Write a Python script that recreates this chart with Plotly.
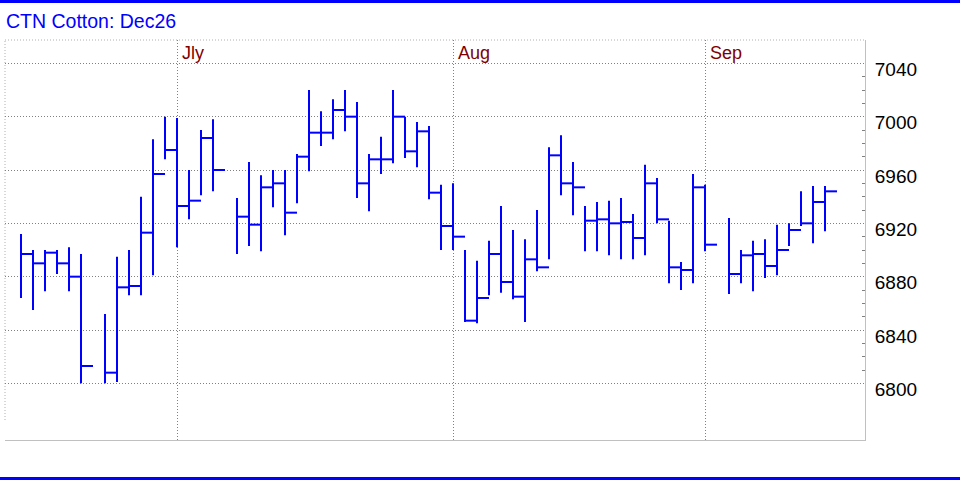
import plotly.graph_objects as go

# ---- data ----
slot = [0, 1, 2, 3, 4, 5,
        7, 8, 9, 10, 11, 12, 13, 14, 15, 16,
        18, 19, 20, 21, 22, 23, 24, 25, 26, 27, 28, 29, 30, 31, 32, 33, 34, 35,
        36, 37, 38, 39, 40, 41, 42, 43, 44, 45, 46, 47, 48, 49, 50, 51, 52, 53,
        54, 55, 56, 57,
        59, 60, 61, 62, 63, 64, 65, 66, 67]
high = [6912, 6900, 6900, 6900, 6902, 6897,
        6852, 6895, 6900, 6940, 6983, 7000, 6999, 6960, 6990, 6998,
        6939, 6966, 6956, 6960, 6960, 6972, 7020, 7004, 7013, 7020, 7011, 6972, 6985, 7020, 7000, 6996, 6993, 6949,
        6950, 6900, 6892, 6907, 6933, 6915, 6908, 6930, 6977, 6986, 6966, 6933, 6936, 6937, 6939, 6927, 6964, 6954,
        6922, 6891, 6957, 6949,
        6924, 6900, 6907, 6908, 6919, 6920, 6944, 6948, 6948]
low = [6864, 6855, 6869, 6882, 6869, 6800,
       6800, 6801, 6866, 6866, 6881, 6968, 6902, 6923, 6941, 6944,
       6897, 6903, 6899, 6932, 6911, 6935, 6959, 6978, 6983, 6989, 6939, 6929, 6957, 6965, 6969, 6962, 6938, 6900,
       6900, 6846, 6845, 6866, 6868, 6863, 6846, 6884, 6893, 6941, 6926, 6899, 6899, 6896, 6893, 6893, 6896, 6920,
       6875, 6870, 6875, 6899,
       6867, 6875, 6869, 6879, 6881, 6903, 6918, 6905, 6914]
close = [6897, 6890, 6898, 6890, 6880, 6813,
         6808, 6872, 6873, 6913, 6957, 6975, 6933, 6937, 6984, 6960,
         6925, 6919, 6947, 6950, 6928, 6970, 6988, 6988, 7005, 7000, 6950, 6968, 6968, 7000, 6974, 6989, 6943, 6918,
         6910, 6847, 6864, 6897, 6876, 6865, 6893, 6887, 6971, 6950, 6947, 6922, 6923, 6920, 6921, 6909, 6950, 6923,
         6887, 6885, 6947, 6904,
         6882, 6896, 6897, 6888, 6900, 6915, 6920, 6936, 6944]

month_labels = ["Jly", "Aug", "Sep"]
month_slots = [13, 36, 57]

y_ticks = [6800, 6840, 6880, 6920, 6960, 7000, 7040]
y_minor_ticks = [v for v in range(6810, 7040, 10) if v % 40 != 0]
title_text = "CTN Cotton: Dec26"

# ---- build HLC bar geometry (vertical high-low + right-hand close tick) ----
xs, ys = [], []
for s, h, l, c in zip(slot, high, low, close):
    xs += [s, s, None, s, s + 1, None]
    ys += [l, h, None, c, c, None]

BLUE = "#0000ff"
FONT = "Liberation Sans, Arial, sans-serif"

fig = go.Figure()
fig.add_trace(go.Scatter(
    x=xs, y=ys, mode="lines",
    line=dict(color=BLUE, width=2),
    hoverinfo="skip", showlegend=False,
))

W, H = 960, 480
L, R, T, B = 5, 95, 40, 40
pw, ph = W - L - R, H - T - B

def py(pix):  # pixel y -> paper y
    return (H - B - pix) / ph

def px(pix):  # pixel x -> paper x
    return (pix - L) / pw

fig.update_layout(
    width=W, height=H,
    margin=dict(l=L, r=R, t=T, b=B, pad=0),
    paper_bgcolor="white", plot_bgcolor="white",
    font=dict(family=FONT, color="black"),
    title=dict(text=title_text, x=6 / W, xref="container", xanchor="left",
               y=1 - 21 / H, yref="container", yanchor="middle",
               font=dict(family=FONT, size=19.5, color=BLUE)),
    xaxis=dict(
        range=[-1.333, 70.333], tickmode="array", tickvals=month_slots,
        showticklabels=False, ticks="", showgrid=True,
        gridcolor="#808080", griddash="1px,2px", gridwidth=1,
        zeroline=False, showline=True, linecolor="#c0c0c0", linewidth=1,
        fixedrange=True,
    ),
    yaxis=dict(
        range=[6757.5, 7057.5], side="right", tickmode="array", tickvals=y_ticks,
        ticks="", showgrid=True, gridcolor="#808080", griddash="1px,2px", gridwidth=1,
        zeroline=False, showline=True, linecolor="#c0c0c0", linewidth=1,
        tickfont=dict(family=FONT, size=19, color="black"),
        ticklabelstandoff=5, ticklabelshift=6,
        minor=dict(tickmode="array", tickvals=y_minor_ticks, ticks="inside", ticklen=3,
                   tickcolor="#808080", tickwidth=1, showgrid=False),
        fixedrange=True,
    ),
    shapes=[
        # dotted top and left frame
        dict(type="line", xref="paper", yref="paper", x0=0, x1=1, y0=1, y1=1,
             line=dict(color="#b0b0b0", width=1, dash="1px,2px"), layer="below"),
        dict(type="line", xref="paper", yref="paper", x0=0, x1=0, y0=py(420), y1=1,
             line=dict(color="#b0b0b0", width=1, dash="1px,2px"), layer="below"),
        # blue rules at top and bottom of the figure
        dict(type="line", xref="paper", yref="paper", x0=px(0), x1=px(W), y0=py(1.5), y1=py(1.5),
             line=dict(color=BLUE, width=3)),
        dict(type="line", xref="paper", yref="paper", x0=px(0), x1=px(W), y0=py(478.5), y1=py(478.5),
             line=dict(color=BLUE, width=3)),
    ],
    annotations=[
        dict(text=m, x=s, xref="x", y=py(53), yref="paper", xanchor="left", yanchor="middle",
             xshift=3, showarrow=False, font=dict(family=FONT, size=18, color="#800000"))
        for m, s in zip(month_labels, month_slots)
    ],
)

fig.write_html("out.html",
               config={"displayModeBar": False, "staticPlot": True},
               post_script="document.body.style.margin='0';document.body.style.overflow='hidden';")
